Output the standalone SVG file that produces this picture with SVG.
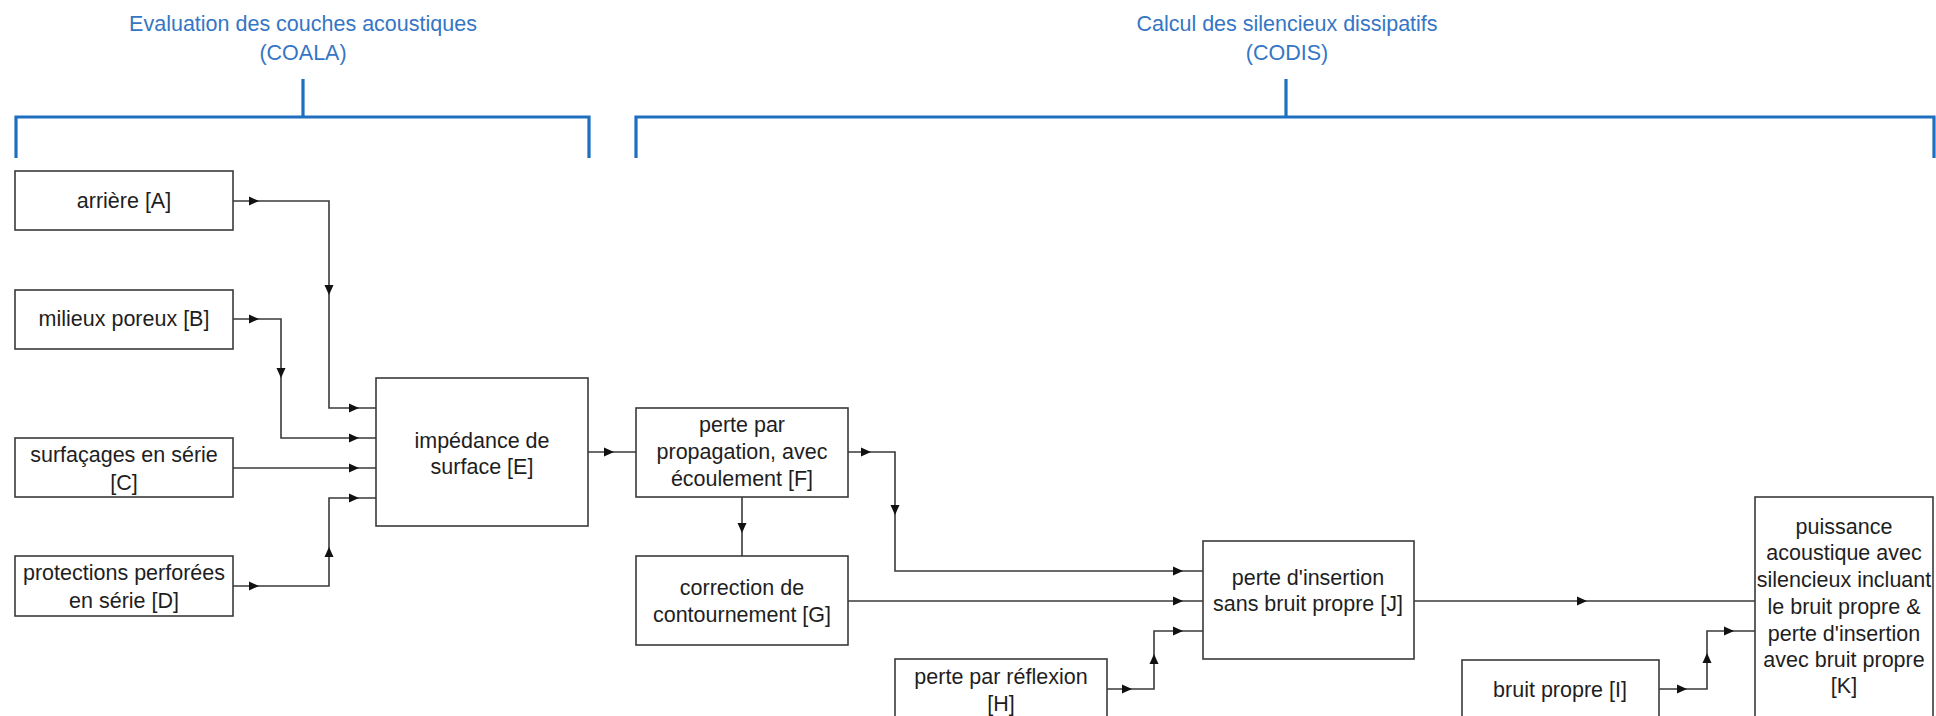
<svg xmlns="http://www.w3.org/2000/svg" width="1936" height="716" viewBox="0 0 1936 716">
<style>
.bg{fill:#ffffff}
.box{fill:#ffffff;stroke:#3a3a3a;stroke-width:1.6}
.t{font-family:"Liberation Sans",Arial,sans-serif;font-size:21.5px;fill:#1e1e1e;text-anchor:middle}
.title{font-family:"Liberation Sans",Arial,sans-serif;font-size:21.5px;fill:#3576c4;text-anchor:middle}
.br{fill:none;stroke:#1f6fc0;stroke-width:3.2}
.ln{fill:none;stroke:#3a3a3a;stroke-width:1.6}
.ah{fill:#111111}
</style>
<defs>
<path id="ar" d="M-5,-4.5 L5,0 L-5,4.5 Z"/>
</defs>
<rect class="bg" x="0" y="0" width="1936" height="716"/>

<g id="coala">
<text class="title" x="303" y="31">Evaluation des couches acoustiques</text>
<text class="title" x="303" y="60">(COALA)</text>
<polyline class="br" points="16,158 16,117 589,117 589,158"/>
<line class="br" x1="303" y1="79" x2="303" y2="117"/>
</g>
<g id="codis">
<text class="title" x="1287" y="31">Calcul des silencieux dissipatifs</text>
<text class="title" x="1287" y="60">(CODIS)</text>
<polyline class="br" points="636,158 636,117 1934,117 1934,158"/>
<line class="br" x1="1286" y1="79" x2="1286" y2="117"/>
</g>

<g id="connectors">
<polyline class="ln" points="233,201 329,201 329,408 376,408"/>
<polyline class="ln" points="233,319 281,319 281,438 376,438"/>
<polyline class="ln" points="233,468 376,468"/>
<polyline class="ln" points="233,586 329,586 329,498 376,498"/>
<polyline class="ln" points="588,452 636,452"/>
<polyline class="ln" points="742,497 742,556"/>
<polyline class="ln" points="848,452 895,452 895,571 1203,571"/>
<polyline class="ln" points="848,601 1203,601"/>
<polyline class="ln" points="1107,689 1154,689 1154,631 1203,631"/>
<polyline class="ln" points="1414,601 1755,601"/>
<polyline class="ln" points="1659,689 1707,689 1707,631 1755,631"/>
<g class="ah">
<use href="#ar" transform="translate(254,201)"/>
<use href="#ar" transform="translate(329,290) rotate(90)"/>
<use href="#ar" transform="translate(354,408)"/>
<use href="#ar" transform="translate(254,319)"/>
<use href="#ar" transform="translate(281,373) rotate(90)"/>
<use href="#ar" transform="translate(354,438)"/>
<use href="#ar" transform="translate(354,468)"/>
<use href="#ar" transform="translate(254,586)"/>
<use href="#ar" transform="translate(329,552) rotate(-90)"/>
<use href="#ar" transform="translate(354,498)"/>
<use href="#ar" transform="translate(609,452)"/>
<use href="#ar" transform="translate(742,528) rotate(90)"/>
<use href="#ar" transform="translate(866,452)"/>
<use href="#ar" transform="translate(895,510) rotate(90)"/>
<use href="#ar" transform="translate(1178,571)"/>
<use href="#ar" transform="translate(1178,601)"/>
<use href="#ar" transform="translate(1127,689)"/>
<use href="#ar" transform="translate(1154,659) rotate(-90)"/>
<use href="#ar" transform="translate(1178,631)"/>
<use href="#ar" transform="translate(1582,601)"/>
<use href="#ar" transform="translate(1682,689)"/>
<use href="#ar" transform="translate(1707,658) rotate(-90)"/>
<use href="#ar" transform="translate(1729,631)"/>
</g>
</g>

<g id="A"><rect class="box" x="15" y="171" width="218" height="59"/><text class="t" x="124" y="208">arrière [A]</text></g>
<g id="B"><rect class="box" x="15" y="290" width="218" height="59"/><text class="t" x="124" y="326">milieux poreux [B]</text></g>
<g id="C"><rect class="box" x="15" y="438" width="218" height="59"/><text class="t" x="124" y="462">surfaçages en série</text><text class="t" x="124" y="490">[C]</text></g>
<g id="D"><rect class="box" x="15" y="556" width="218" height="60"/><text class="t" x="124" y="580">protections perforées</text><text class="t" x="124" y="608">en série [D]</text></g>
<g id="E"><rect class="box" x="376" y="378" width="212" height="148"/><text class="t" x="482" y="448">impédance de</text><text class="t" x="482" y="474">surface [E]</text></g>
<g id="F"><rect class="box" x="636" y="408" width="212" height="89"/><text class="t" x="742" y="432">perte par</text><text class="t" x="742" y="459">propagation, avec</text><text class="t" x="742" y="486">écoulement [F]</text></g>
<g id="G"><rect class="box" x="636" y="556" width="212" height="89"/><text class="t" x="742" y="595">correction de</text><text class="t" x="742" y="622">contournement [G]</text></g>
<g id="H"><rect class="box" x="895" y="659" width="212" height="70"/><text class="t" x="1001" y="684">perte par réflexion</text><text class="t" x="1001" y="711">[H]</text></g>
<g id="J"><rect class="box" x="1203" y="541" width="211" height="118"/><text class="t" x="1308" y="585">perte d'insertion</text><text class="t" x="1308" y="611">sans bruit propre [J]</text></g>
<g id="I"><rect class="box" x="1462" y="660" width="197" height="70"/><text class="t" x="1560" y="697">bruit propre [I]</text></g>
<g id="K"><rect class="box" x="1755" y="497" width="178" height="233"/>
<text class="t" x="1844" y="534">puissance</text>
<text class="t" x="1844" y="560">acoustique avec</text>
<text class="t" x="1844" y="587">silencieux incluant</text>
<text class="t" x="1844" y="614">le bruit propre &amp;</text>
<text class="t" x="1844" y="641">perte d'insertion</text>
<text class="t" x="1844" y="667">avec bruit propre</text>
<text class="t" x="1844" y="693">[K]</text>
</g>
</svg>
